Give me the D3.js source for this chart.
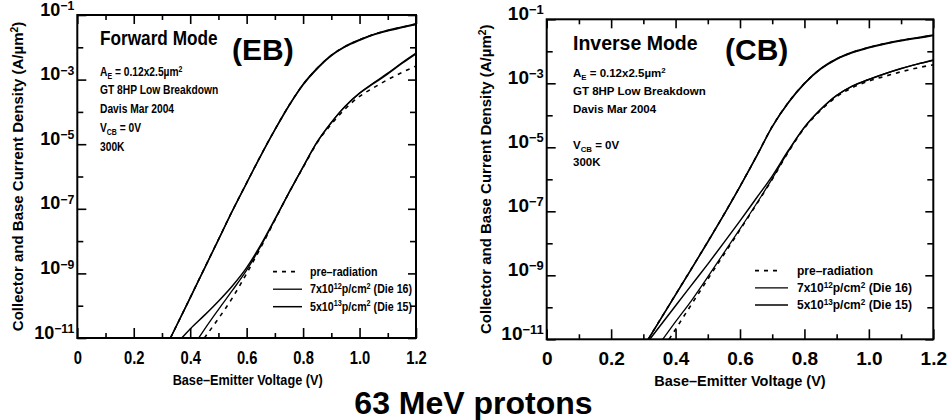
<!DOCTYPE html>
<html>
<head>
<meta charset="utf-8">
<script src="https://cdn.jsdelivr.net/npm/d3@7"></script>
<style>
  body { margin: 0; background: #fff; }
  svg { display: block; }
</style>
</head>
<body>
<div id="chart"></div>
<script>
// Datos: [Vbe (V), log10 J (A/um^2)]

// Forward mode (EB)
const fwdIcPre = [[0.33,-11],[0.40,-9.75],[0.45,-8.85],[0.50,-7.95],[0.55,-7.05],[0.60,-6.2],[0.65,-5.35],[0.70,-4.55],[0.75,-3.8],[0.80,-3.15],[0.85,-2.65],[0.90,-2.25],[0.95,-1.97],[1.00,-1.77],[1.05,-1.6],[1.10,-1.48],[1.15,-1.38],[1.20,-1.28]];
const fwdIc7 = [[0.33,-11],[0.40,-9.75],[0.45,-8.85],[0.50,-7.95],[0.55,-7.05],[0.60,-6.2],[0.65,-5.35],[0.70,-4.55],[0.75,-3.8],[0.80,-3.14],[0.85,-2.64],[0.90,-2.24],[0.95,-1.96],[1.00,-1.76],[1.05,-1.6],[1.10,-1.47],[1.15,-1.37],[1.20,-1.27]];
const fwdIc13 = [[0.33,-11],[0.40,-9.76],[0.45,-8.86],[0.50,-7.96],[0.55,-7.06],[0.60,-6.2],[0.65,-5.36],[0.70,-4.56],[0.75,-3.81],[0.80,-3.16],[0.85,-2.66],[0.90,-2.26],[0.95,-1.98],[1.00,-1.78],[1.05,-1.61],[1.10,-1.49],[1.15,-1.39],[1.20,-1.29]];
const fwdIbPre = [[0.45,-11],[0.50,-10.4],[0.55,-9.75],[0.60,-9.0],[0.65,-8.2],[0.70,-7.35],[0.75,-6.5],[0.80,-5.72],[0.85,-4.95],[0.90,-4.38],[0.95,-3.9],[1.00,-3.52],[1.05,-3.25],[1.10,-3.0],[1.15,-2.78],[1.20,-2.58]];
const fwdIb7 = [[0.43,-11],[0.45,-10.74],[0.50,-10.12],[0.55,-9.52],[0.60,-8.9],[0.65,-8.16],[0.70,-7.34],[0.75,-6.5],[0.80,-5.7],[0.85,-4.93],[0.90,-4.33],[0.95,-3.82],[1.00,-3.42],[1.05,-3.1],[1.10,-2.8],[1.15,-2.48],[1.20,-2.18]];
const fwdIb13 = [[0.37,-11],[0.40,-10.72],[0.45,-10.3],[0.50,-9.86],[0.55,-9.38],[0.60,-8.82],[0.65,-8.12],[0.70,-7.32],[0.75,-6.5],[0.80,-5.7],[0.85,-4.93],[0.90,-4.33],[0.95,-3.82],[1.00,-3.42],[1.05,-3.12],[1.10,-2.82],[1.15,-2.5],[1.20,-2.2]];

// Inverse mode (CB)
const invIcPre = [[0.315,-11],[0.40,-9.6],[0.45,-8.78],[0.50,-7.95],[0.55,-7.1],[0.60,-6.22],[0.65,-5.3],[0.70,-4.35],[0.75,-3.6],[0.80,-3.0],[0.85,-2.55],[0.90,-2.24],[0.95,-2.03],[1.00,-1.88],[1.05,-1.76],[1.10,-1.66],[1.15,-1.58],[1.20,-1.5]];
const invIc7 = [[0.315,-11],[0.40,-9.6],[0.45,-8.78],[0.50,-7.95],[0.55,-7.1],[0.60,-6.22],[0.65,-5.3],[0.70,-4.35],[0.75,-3.6],[0.80,-3.0],[0.85,-2.54],[0.90,-2.23],[0.95,-2.02],[1.00,-1.87],[1.05,-1.75],[1.10,-1.65],[1.15,-1.57],[1.20,-1.49]];
const invIc13 = [[0.315,-11],[0.40,-9.61],[0.45,-8.79],[0.50,-7.96],[0.55,-7.11],[0.60,-6.23],[0.65,-5.31],[0.70,-4.36],[0.75,-3.61],[0.80,-3.01],[0.85,-2.56],[0.90,-2.25],[0.95,-2.04],[1.00,-1.89],[1.05,-1.77],[1.10,-1.67],[1.15,-1.59],[1.20,-1.51]];
const invIbPre = [[0.38,-11],[0.45,-9.9],[0.50,-9.12],[0.55,-8.35],[0.60,-7.58],[0.65,-6.8],[0.70,-6.0],[0.75,-5.15],[0.80,-4.4],[0.85,-3.85],[0.90,-3.42],[0.95,-3.13],[1.00,-2.93],[1.05,-2.78],[1.10,-2.64],[1.15,-2.52],[1.20,-2.42]];
const invIb7 = [[0.36,-11],[0.40,-10.45],[0.45,-9.78],[0.50,-9.05],[0.55,-8.3],[0.60,-7.55],[0.65,-6.78],[0.70,-5.98],[0.75,-5.13],[0.80,-4.38],[0.85,-3.82],[0.90,-3.38],[0.95,-3.08],[1.00,-2.88],[1.05,-2.7],[1.10,-2.54],[1.15,-2.4],[1.20,-2.28]];
const invIb13 = [[0.32,-11],[0.40,-9.95],[0.45,-9.3],[0.50,-8.65],[0.55,-7.98],[0.60,-7.3],[0.65,-6.6],[0.70,-5.9],[0.75,-5.1],[0.80,-4.37],[0.85,-3.82],[0.90,-3.38],[0.95,-3.08],[1.00,-2.88],[1.05,-2.7],[1.10,-2.54],[1.15,-2.4],[1.20,-2.27]];

// ejes
const xMajor = [0, 0.2, 0.4, 0.6, 0.8, 1.0, 1.2];
const xMinor = [0.1, 0.3, 0.5, 0.7, 0.9, 1.1];
const yLabeled = [-11, -9, -7, -5, -3, -1];
const yUnlabeled = [-10, -8, -6, -4, -2];

const legendLabels = [
  [["pre–radiation", ""]],
  [["7x10", ""], ["12", "sup"], ["p/cm", ""], ["2", "sup"], [" (Die 16)", ""]],
  [["5x10", ""], ["13", "sup"], ["p/cm", ""], ["2", "sup"], [" (Die 15)", ""]]
];
const infoLines = [
  [["A", ""], ["E", "sub"], [" = 0.12x2.5µm", ""], ["2", "sup"]],
  [["GT 8HP Low Breakdown", ""]],
  [["Davis Mar 2004", ""]],
  [["V", ""], ["CB", "sub"], [" = 0V", ""]],
  [["300K", ""]]
];
const yTitle = [["Collector and Base Current Density (A/µm", ""], ["2", "sup"], [")", ""]];
const xTitle = "Base–Emitter Voltage (V)";

const width = 947;
const height = 420;
const sansFont = "Liberation Sans, Arial, sans-serif";

let svg = d3.select("#chart").append("svg")
  .attr("width", width)
  .attr("height", height)
  .style("font-family", sansFont)
  .style("font-weight", "bold");

// texto con sub/superindices usando tspans
function richText(sel, parts, size, raise = 0.36) {
  let shift = 0;
  parts.forEach(p => {
    let target = p[1] == "sup" ? -size * raise : (p[1] == "sub" ? size * 0.25 : 0);
    sel.append("tspan")
      .attr("dy", target - shift)
      .attr("font-size", p[1] ? size * 0.68 : size)
      .text(p[0]);
    shift = target;
  });
  return sel;
}

// texto comprimido en horizontal (panel izquierdo)
function placeText(g, x, y, sx) {
  return g.append("text").attr("transform", `translate(${x},${y}) scale(${sx},1)`);
}

function drawPanel(p) {
  let x = d3.scaleLinear().domain([0, 1.2]).range([p.left, p.right]);
  let y = d3.scaleLog().domain([1e-11, 1e-1]).range([p.bottom, p.top]);

  let g = svg.append("g");

  g.append("clipPath").attr("id", "clip" + p.id)
    .append("rect")
    .attr("x", p.left).attr("y", p.top)
    .attr("width", p.right - p.left).attr("height", p.bottom - p.top);

  // ticks hacia adentro
  let axes = [
    [d3.axisBottom(x).tickValues(xMajor).tickSize(-10), `translate(0,${p.bottom})`],
    [d3.axisBottom(x).tickValues(xMinor).tickSize(-5), `translate(0,${p.bottom})`],
    [d3.axisTop(x).tickValues(xMajor).tickSize(-9), `translate(0,${p.top})`],
    [d3.axisTop(x).tickValues(xMinor).tickSize(-5), `translate(0,${p.top})`],
    [d3.axisLeft(y).tickValues(yLabeled.map(e => 10 ** e)).tickSize(-9), `translate(${p.left},0)`],
    [d3.axisLeft(y).tickValues(yUnlabeled.map(e => 10 ** e)).tickSize(-6), `translate(${p.left},0)`],
    [d3.axisRight(y).tickValues(yLabeled.map(e => 10 ** e)).tickSize(-8), `translate(${p.right},0)`],
    [d3.axisRight(y).tickValues(yUnlabeled.map(e => 10 ** e)).tickSize(-6), `translate(${p.right},0)`]
  ];
  axes.forEach(a => {
    let ax = g.append("g").attr("transform", a[1])
      .call(a[0].tickFormat("").tickSizeOuter(0));
    ax.select(".domain").remove();
    ax.selectAll("line").attr("stroke", "#000").attr("stroke-width", 1.6);
  });

  // etiquetas eje x
  let xl = g.append("g").attr("transform", `translate(0,${p.bottom})`)
    .call(d3.axisBottom(x).tickValues(xMajor).tickSize(0).tickPadding(p.xPad)
      .tickFormat(d => d == 0 ? "0" : d3.format(".1f")(d)));
  xl.select(".domain").remove();
  xl.selectAll("text")
    .attr("font-size", p.tickSize).attr("font-family", sansFont).attr("fill", "#000")
    .attr("transform", `scale(${p.sx},1)`);

  // etiquetas eje y (10^n)
  let yl = g.append("g").attr("transform", `translate(${p.left},0)`)
    .call(d3.axisLeft(y).tickValues(yLabeled.map(e => 10 ** e)).tickSize(0).tickPadding(p.yPad).tickFormat(""));
  yl.select(".domain").remove();
  yl.selectAll("text").each(function(d) {
    let t = d3.select(this).attr("font-family", sansFont).attr("fill", "#000")
      .attr("dy", "0.45em");
    richText(t, [["10", ""], ["−" + Math.round(-Math.log10(d)), "sup"]], p.tickSize, 0.3);
  });

  // marco
  g.append("rect")
    .attr("x", p.left).attr("y", p.top)
    .attr("width", p.right - p.left).attr("height", p.bottom - p.top)
    .attr("fill", "none").attr("stroke", "#000").attr("stroke-width", 2);

  // curvas
  let line = d3.line()
    .x(d => x(d[0]))
    .y(d => y(10 ** d[1]))
    .curve(d3.curveMonotoneX);
  let curves = g.append("g").attr("clip-path", `url(#clip${p.id})`);
  p.curves.forEach(c => {
    curves.append("path")
      .attr("d", line(c.data))
      .attr("fill", "none")
      .attr("stroke", "#000")
      .attr("stroke-width", c.w)
      .attr("stroke-dasharray", c.dash);
  });

  // titulos de ejes
  placeText(g, (p.left + p.right) / 2 + p.xTitleDx, p.bottom + 47, p.sx)
    .attr("text-anchor", "middle")
    .attr("font-size", p.titleSize)
    .text(xTitle);
  let yt = g.append("text")
    .attr("transform", `translate(${p.yTitleX},${(p.top + p.bottom) / 2}) rotate(-90)`)
    .attr("text-anchor", "middle");
  richText(yt, yTitle, 15);

  // anotaciones
  placeText(g, p.infoX, p.modeY, p.sx).attr("font-size", p.modeSize).text(p.mode);
  g.append("text").attr("x", p.tagX).attr("y", 60)
    .attr("font-size", 30).text(p.tag);
  infoLines.forEach((ln, i) => {
    richText(placeText(g, p.infoX, p.infoY[i], p.sx), ln, p.infoSize);
  });

  // leyenda
  let styles = [{w: 1.8, dash: "4,5"}, {w: 1.3, dash: null}, {w: 1.5, dash: null}];
  legendLabels.forEach((lab, i) => {
    let ly = p.legY + i * p.legStep;
    g.append("line")
      .attr("x1", p.legX).attr("x2", p.legX + (i == 0 ? p.legDash : p.legLen))
      .attr("y1", ly).attr("y2", ly)
      .attr("stroke", "#000").attr("stroke-width", styles[i].w)
      .attr("stroke-dasharray", styles[i].dash);
    richText(placeText(g, p.legText, ly + 4, p.sx), lab, p.legSize);
  });
}

drawPanel({
  id: "fwd", sx: 0.82,
  left: 77.3, right: 416, top: 15, bottom: 338,
  xPad: 13, yPad: 3, tickSize: 18, titleSize: 15.5, xTitleDx: 1, yTitleX: 23,
  mode: "Forward Mode", modeSize: 21, modeY: 45, tag: "(EB)", tagX: 232,
  infoX: 100, infoY: [76, 94, 112.5, 132, 151], infoSize: 12.5,
  legX: 273, legDash: 25, legLen: 29, legText: 310, legY: 271.7, legStep: 17.5, legSize: 13,
  curves: [
    {data: fwdIc7, w: 1.3}, {data: fwdIc13, w: 1.5}, {data: fwdIcPre, w: 1.6, dash: "4,5"},
    {data: fwdIb7, w: 1.3}, {data: fwdIb13, w: 1.5}, {data: fwdIbPre, w: 1.6, dash: "4,5"}
  ]
});

drawPanel({
  id: "inv", sx: 1,
  left: 546.7, right: 933.3, top: 19.3, bottom: 339.3,
  xPad: 12, yPad: 3, tickSize: 19, titleSize: 14.5, xTitleDx: 0, yTitleX: 491,
  mode: "Inverse Mode", modeSize: 19.5, modeY: 50, tag: "(CB)", tagX: 725,
  infoX: 573, infoY: [77, 94.5, 112.5, 149, 166], infoSize: 11.5,
  legX: 755, legDash: 27, legLen: 33, legText: 797, legY: 270.7, legStep: 17.2, legSize: 12,
  curves: [
    {data: invIc7, w: 1.3}, {data: invIc13, w: 1.5}, {data: invIcPre, w: 1.6, dash: "4,5"},
    {data: invIb7, w: 1.3}, {data: invIb13, w: 1.5}, {data: invIbPre, w: 1.6, dash: "4,5"}
  ]
});

svg.append("text")
  .attr("x", 473.5).attr("y", 414)
  .attr("text-anchor", "middle")
  .attr("font-size", 32)
  .text("63 MeV protons");
</script>
</body>
</html>
